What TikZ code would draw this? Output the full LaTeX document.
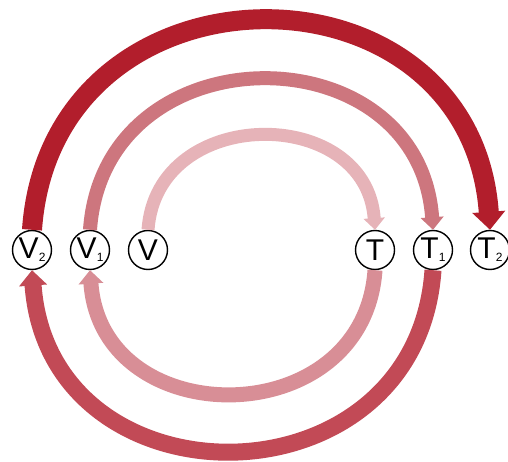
\documentclass[tikz,border=0pt]{standalone}
\usepackage{fontspec}
\setmainfont{Liberation Sans}
\usepackage{tikz}
\usetikzlibrary{arrows.meta}

\definecolor{outerred}{RGB}{178,30,44}
\definecolor{midpink}{RGB}{205,118,126}
\definecolor{lightpink}{RGB}{230,179,184}
\definecolor{backpink}{RGB}{216,142,150}
\definecolor{backred}{RGB}{194,74,86}

\newcommand{\idx}[1]{\kern0.3pt\raisebox{-3pt}{\fontsize{12}{12}\selectfont #1}}

\begin{document}
\begin{tikzpicture}[x=1pt, y=1pt,
  state/.style={circle, draw=black, line width=1.4pt, fill=white,
    minimum size=39pt, inner sep=0pt, font=\fontsize{30}{32}\selectfont},
  loop/.style={line width=#1, -{Triangle[width=#1*1.6, length=#1*0.9]}}]
\useasboundingbox (0,0) rectangle (508,461);
\node[state] (V2) at (32,211) {V\idx{2}};
\node[state] (V1) at (90,211) {V\idx{1}};
\node[state] (V) at (148,211) {V};
\node[state] (T) at (375,211) {T};
\node[state] (T1) at (433,211) {T\idx{1}};
\node[state] (T2) at (490,211) {T\idx{2}};
% top arcs
\draw[loop=20pt, outerred] (V2.north) to[out=86, in=94, looseness=1.56] (T2.north);
\draw[loop=14pt, midpink] (V1.north) to[out=86, in=94, looseness=1.5] (T1.north);
\draw[loop=13pt, lightpink] (V.north) to[out=86, in=94, looseness=1.42] (T.north);
% bottom arcs
\draw[loop=15pt, backpink] (T.south) to[out=-94, in=-86, looseness=1.48] (V1.south);
\draw[loop=17pt, backred] (T1.south) to[out=-94, in=-86, looseness=1.54] (V2.south);
\end{tikzpicture}
\end{document}
